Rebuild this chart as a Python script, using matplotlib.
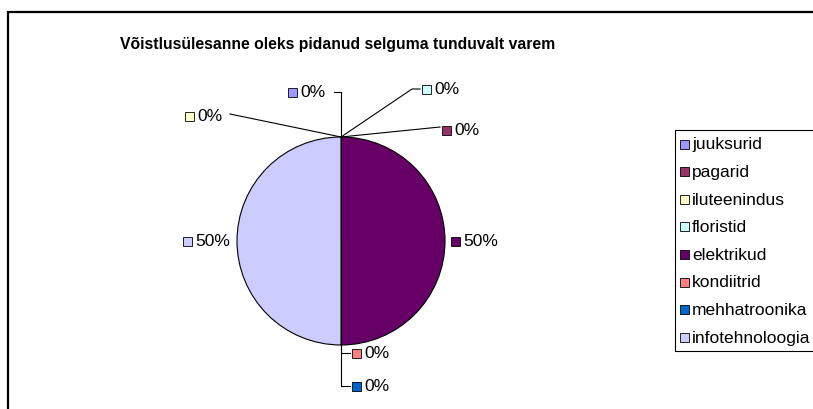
import matplotlib.pyplot as plt
from matplotlib.patches import Rectangle

# ----------------------------
# Data
# ----------------------------
TITLE = "Võistlusülesanne oleks pidanud selguma tunduvalt varem"
categories = ["juuksurid", "pagarid", "iluteenindus", "floristid",
              "elektrikud", "kondiitrid", "mehhatroonika", "infotehnoloogia"]
values = [0, 0, 0, 0, 50, 0, 0, 50]
colors = ["#9999FF", "#993366", "#FFFFCC", "#CCFFFF",
          "#660066", "#FF8080", "#0066CC", "#CCCCFF"]

plt.rcParams["font.family"] = ["Liberation Sans", "DejaVu Sans"]

W, H = 813, 410
fig = plt.figure(figsize=(W / 100, H / 100), dpi=100)

# outer chart border (extends past the right/bottom edge)
fig.patches.append(Rectangle((8 / W, -0.1), 2, 1 - 13 / H + 0.1,
                             transform=fig.transFigure, fill=False,
                             edgecolor="#000000", linewidth=1.6))

fig.text(338 / W, 1 - 45 / H, TITLE, ha="center", va="center",
         fontsize=11.3, fontweight="bold")

# pie axes: center (341, 242) px, radius 104 px
cx, cy, R = 341, 242, 104
ax = fig.add_axes([(cx - R) / W, (H - cy - R) / H, 2 * R / W, 2 * R / H])
wedges, _ = ax.pie(values, colors=colors, startangle=90, counterclock=False,
                   wedgeprops=dict(edgecolor="black", linewidth=0.8))
ax.set_xlim(-1, 1)
ax.set_ylim(-1, 1)
ax.set_aspect("equal")
ax.axis("off")


def px(x, y):
    return (x - cx) / R, -(y - cy) / R


# label placement: box centre, leader polyline (pixel coords)
label_pos = {
    "juuksurid": (292, 93, [(334, 93), (341, 93), (341, 138)]),
    "pagarid": (446, 131, [(440, 128), (341, 138)]),
    "iluteenindus": (189, 117, [(230, 115), (341, 138)]),
    "floristid": (426, 90, [(420, 90), (412, 90), (341, 138)]),
    "elektrikud": (455, 242, None),
    "kondiitrid": (356, 354, [(350, 354), (341, 354), (341, 346)]),
    "mehhatroonika": (356, 387, [(350, 387), (341, 387), (341, 346)]),
    "infotehnoloogia": (187, 242, None),
}

for cat, val, col in zip(categories, values, colors):
    bx, by, line = label_pos[cat]
    if line:
        xs, ys = zip(*[px(a, b) for a, b in line])
        ax.plot(xs, ys, color="black", linewidth=0.8, clip_on=False)
    ax.add_patch(Rectangle(px(bx - 4.5, by + 4.5), 9 / R, 9 / R, facecolor=col,
                           edgecolor="black", linewidth=0.6, clip_on=False))
    ax.text(*px(bx + 8.5, by), f"{val}%", ha="left", va="center",
            fontsize=12.5, clip_on=False)

# legend
fig.patches.append(Rectangle((675 / W, 1 - 352 / H), 0.2, (352 - 131) / H,
                             transform=fig.transFigure, fill=False,
                             edgecolor="black", linewidth=0.8))
for i, (cat, col) in enumerate(zip(categories, colors)):
    y = 145 + i * 27.6
    fig.patches.append(Rectangle((680 / W, 1 - (y + 4.5) / H), 9 / W, 9 / H,
                                 transform=fig.transFigure, facecolor=col,
                                 edgecolor="black", linewidth=0.6))
    fig.text(692 / W, 1 - y / H, cat, ha="left", va="center", fontsize=12.5)

fig.savefig("out.png", dpi=100)
